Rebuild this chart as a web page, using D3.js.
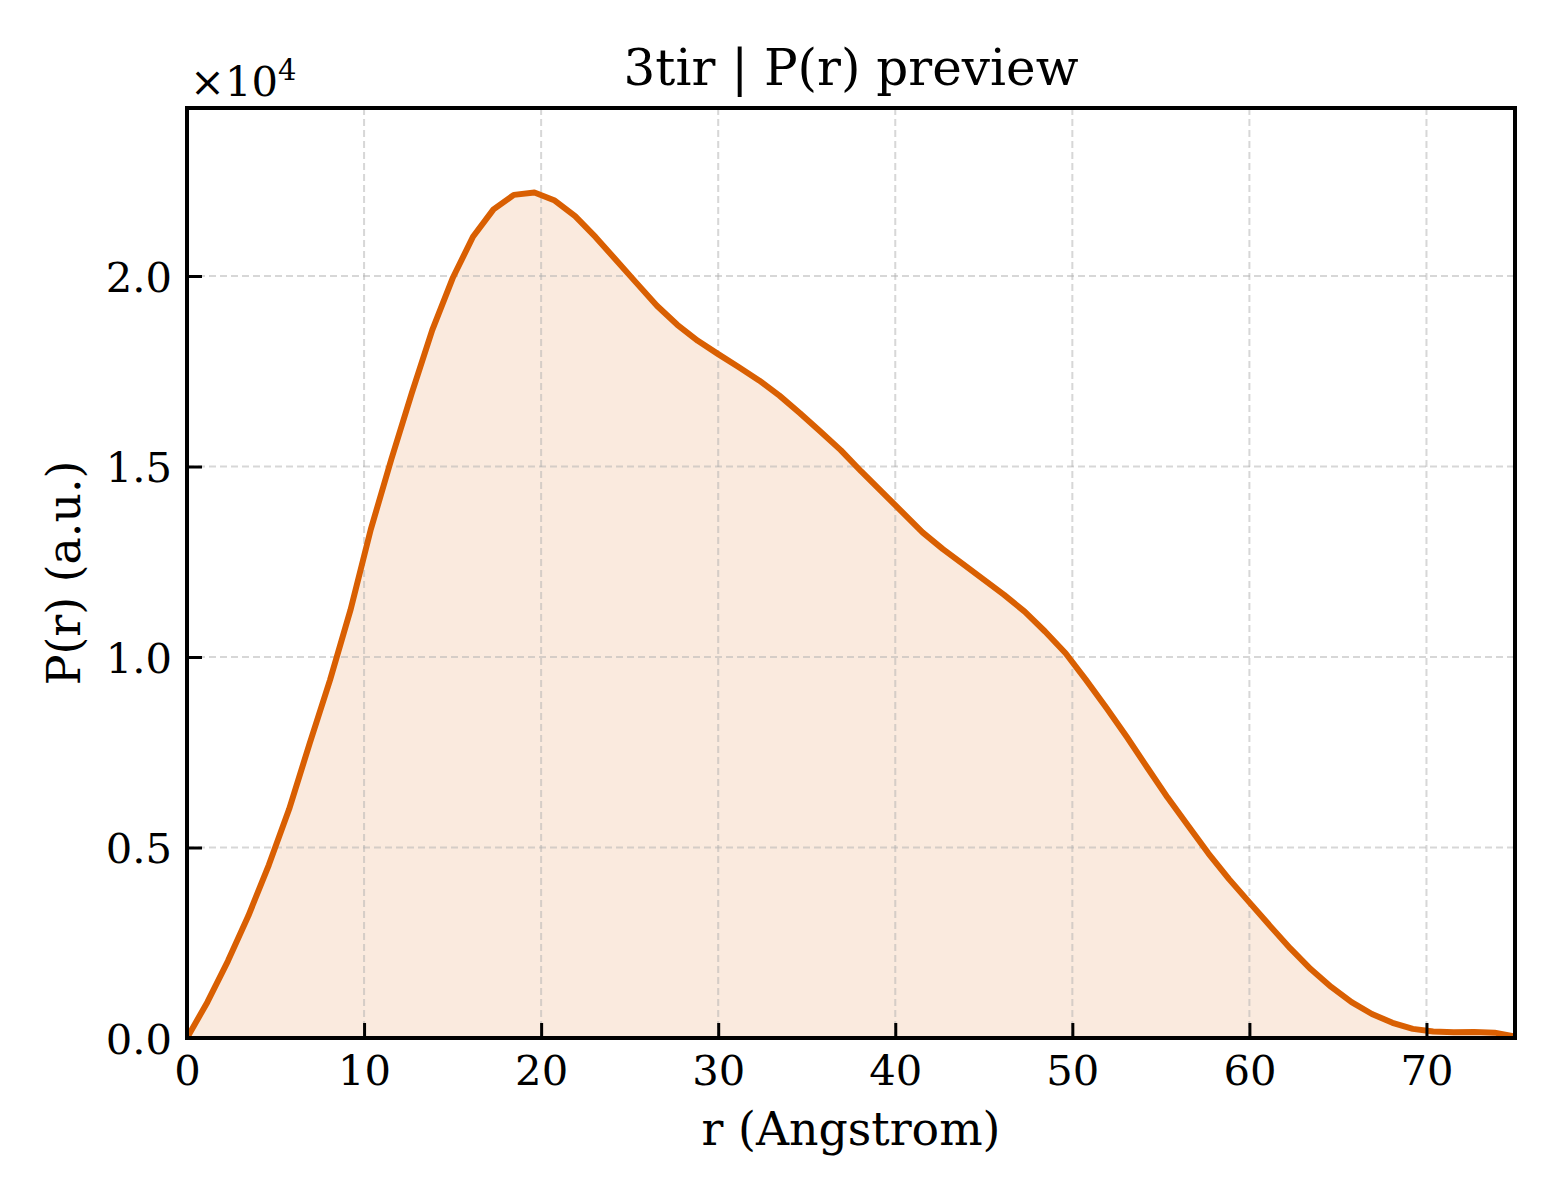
<!DOCTYPE html>
<html>
<head>
<meta charset="utf-8">
<script src="https://cdn.jsdelivr.net/npm/d3@7"></script>
<style>
  html, body { margin: 0; padding: 0; background: #ffffff; }
  svg { display: block; }
  text { font-family: "DejaVu Serif", serif; fill: #000; }
</style>
</head>
<body>
<svg id="chart" width="1560" height="1200"></svg>
<script>
// ---- data ----
const title = "3tir | P(r) preview";
const xLabel = "r (Angstrom)";
const yLabel = "P(r) (a.u.)";

const rValues = [
  0.00, 1.15, 2.31, 3.46, 4.62, 5.77, 6.92, 8.08, 9.23, 10.38,
  11.54, 12.69, 13.85, 15.00, 16.15, 17.31, 18.46, 19.62, 20.77, 21.92,
  23.08, 24.23, 25.38, 26.54, 27.69, 28.85, 30.00, 31.15, 32.31, 33.46,
  34.62, 35.77, 36.92, 38.08, 39.23, 40.38, 41.54, 42.69, 43.85, 45.00,
  46.15, 47.31, 48.46, 49.62, 50.77, 51.92, 53.08, 54.23, 55.38, 56.54,
  57.69, 58.85, 60.00, 61.15, 62.31, 63.46, 64.62, 65.77, 66.92, 68.08,
  69.23, 70.38, 71.54, 72.69, 73.85, 75.00
];

const prValues = [
  0, 940, 2020, 3200, 4540, 6010, 7720, 9400, 11230, 13350,
  15190, 16920, 18580, 19940, 21030, 21750, 22130, 22190, 21980, 21570,
  21020, 20420, 19820, 19220, 18720, 18300, 17950, 17610, 17260, 16860,
  16400, 15920, 15430, 14870, 14340, 13810, 13270, 12830, 12430, 12030,
  11630, 11190, 10670, 10100, 9400, 8670, 7900, 7100, 6310, 5570,
  4840, 4170, 3560, 2950, 2350, 1810, 1340, 940, 630, 400,
  240, 170, 150, 160, 140, 40
];

const xTicks = [0, 10, 20, 30, 40, 50, 60, 70];
const yTicks = [0, 5000, 10000, 15000, 20000];
const xDomain = [0, 75];
const yDomain = [0, 24410];

// ---- layout ----
const svg = d3.select("#chart");
const W = 1560, H = 1200;
const plot = { left: 187, top: 108, right: 1515, bottom: 1038 };
const lineColor = "#d95f02";

svg.append("rect").attr("width", W).attr("height", H).attr("fill", "#ffffff");

const x = d3.scaleLinear().domain(xDomain).range([plot.left, plot.right]);
const y = d3.scaleLinear().domain(yDomain).range([plot.bottom, plot.top]);

const data = rValues.map((r, i) => ({ r: r, p: prValues[i] }));

svg.append("clipPath").attr("id", "plotclip")
  .append("rect")
  .attr("x", plot.left).attr("y", plot.top)
  .attr("width", plot.right - plot.left).attr("height", plot.bottom - plot.top);

// fill under curve
const area = d3.area().x(d => x(d.r)).y0(y(0)).y1(d => y(d.p));
svg.append("path")
  .datum(data)
  .attr("d", area)
  .attr("fill", lineColor)
  .attr("fill-opacity", 0.13)
  .attr("clip-path", "url(#plotclip)");

// grid
const grid = svg.append("g").attr("class", "grid");
grid.selectAll("line.gx").data(xTicks.filter(v => v > xDomain[0])).enter().append("line")
  .attr("x1", d => x(d)).attr("x2", d => x(d))
  .attr("y1", plot.top).attr("y2", plot.bottom)
  .attr("stroke", "#b0b0b0").attr("stroke-opacity", 0.5)
  .attr("stroke-width", 2).attr("stroke-dasharray", "7,4");
grid.selectAll("line.gy").data(yTicks.filter(v => v > yDomain[0])).enter().append("line")
  .attr("y1", d => y(d)).attr("y2", d => y(d))
  .attr("x1", plot.left).attr("x2", plot.right)
  .attr("stroke", "#b0b0b0").attr("stroke-opacity", 0.5)
  .attr("stroke-width", 2).attr("stroke-dasharray", "7,4");

// curve
const line = d3.line().x(d => x(d.r)).y(d => y(d.p));
svg.append("path")
  .datum(data)
  .attr("d", line)
  .attr("fill", "none")
  .attr("stroke", lineColor)
  .attr("stroke-width", 6)
  .attr("stroke-linejoin", "round")
  .attr("clip-path", "url(#plotclip)");

// axes (ticks pointing inward)
const xAxis = d3.axisBottom(x).tickValues(xTicks).tickSize(-15).tickPadding(0).tickFormat(d3.format("d"));
const gx = svg.append("g").attr("transform", `translate(0,${plot.bottom})`).call(xAxis);
gx.select(".domain").remove();
gx.selectAll(".tick line").attr("stroke", "#000").attr("stroke-width", 3);
gx.selectAll(".tick text")
  .attr("font-family", "DejaVu Serif")
  .attr("font-size", 41.7)
  .attr("fill", "#000")
  .attr("y", 47)
  .attr("dy", 0);

const yAxis = d3.axisLeft(y).tickValues(yTicks).tickSize(-15).tickPadding(0)
  .tickFormat(d => (d / 10000).toFixed(1));
const gy = svg.append("g").attr("transform", `translate(${plot.left},0)`).call(yAxis);
gy.select(".domain").remove();
gy.selectAll(".tick line").attr("stroke", "#000").attr("stroke-width", 3);
gy.selectAll(".tick text")
  .attr("font-family", "DejaVu Serif")
  .attr("font-size", 41.7)
  .attr("fill", "#000")
  .attr("x", -15)
  .attr("dy", "0.36em");

// frame
svg.append("rect")
  .attr("x", plot.left).attr("y", plot.top)
  .attr("width", plot.right - plot.left).attr("height", plot.bottom - plot.top)
  .attr("fill", "none").attr("stroke", "#000").attr("stroke-width", 4);

// offset text ×10^4
const off = svg.append("text")
  .attr("x", 190).attr("y", 96)
  .attr("font-size", 41.7);
off.append("tspan").text("×10");
off.append("tspan").attr("font-size", 29).attr("dy", -16).text("4");

// title and labels
const cx = (plot.left + plot.right) / 2;
svg.append("text")
  .attr("x", cx).attr("y", 85)
  .attr("text-anchor", "middle")
  .attr("font-size", 50)
  .text(title);

svg.append("text")
  .attr("x", cx).attr("y", 1145)
  .attr("text-anchor", "middle")
  .attr("font-size", 45.8)
  .text(xLabel);

svg.append("text")
  .attr("transform", `translate(80,${(plot.top + plot.bottom) / 2}) rotate(-90)`)
  .attr("text-anchor", "middle")
  .attr("font-size", 45.8)
  .text(yLabel);
</script>
</body>
</html>
